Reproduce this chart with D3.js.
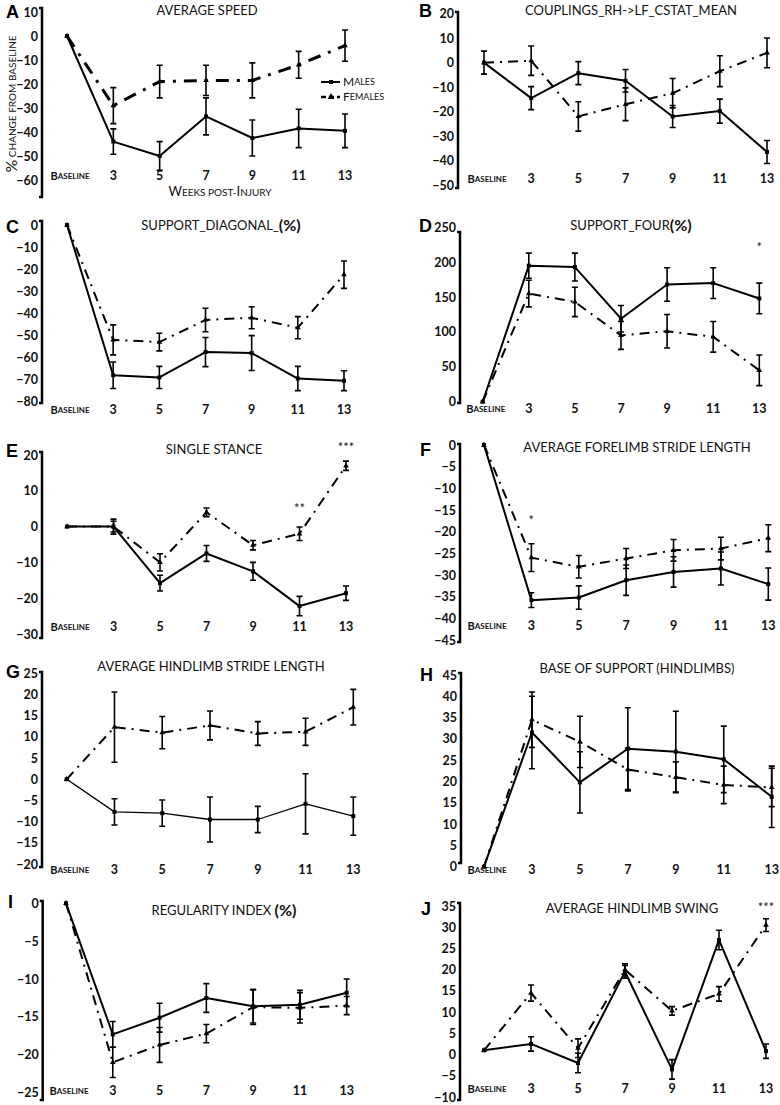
<!DOCTYPE html>
<html>
<head>
<meta charset="utf-8">
<script src="https://cdn.jsdelivr.net/npm/d3@7"></script>
<style>
body { margin: 0; background: #fff; }
svg { display: block; font-family: Lato, "Open Sans", sans-serif; }
</style>
</head>
<body>
<div id="chart"></div>
<script>
const weeks = ["Baseline", "3", "5", "7", "9", "11", "13"];

// A - average speed
const speedMales = [0, -44, -50, -33.5, -42.5, -38.5, -39.5];
const speedMalesErr = [0, 5.3, 6, 7.7, 7.5, 8, 7];
const speedFemales = [0, -29, -19, -18.5, -18.5, -12, -4];
const speedFemalesErr = [0, 7.5, 6.8, 6.3, 7.3, 5.6, 6.5];

// B - couplings RH->LF
const couplingMales = [0, -14.5, -4.3, -7.4, -22, -19.8, -36.5];
const couplingMalesErr = [4.7, 4.7, 4.7, 4.6, 4.5, 4.9, 4.7];
const couplingFemales = [0, 0.8, -22, -17, -12.5, -3.5, 4];
const couplingFemalesErr = [0, 6, 6, 6.7, 6, 6.3, 6.1];

// C - support diagonal
const diagMales = [0, -68, -69, -57.5, -58, -69.5, -70.5];
const diagMalesErr = [0, 6, 5, 6.6, 7.9, 5.5, 4.5];
const diagFemales = [0, -52, -53, -43, -42, -46.5, -22.5];
const diagFemalesErr = [0, 6.8, 4, 5.3, 5, 5, 6.2];

// D - support four
const fourMales = [0, 195, 193, 119, 168, 170, 148];
const fourMalesErr = [0, 18, 20, 19, 24, 22, 22];
const fourFemales = [0, 155, 143, 95, 101, 93, 45];
const fourFemalesErr = [0, 19, 21, 20, 24, 22, 22];
const fourSig = [["13", 219, "*"]];

// E - single stance
const stanceMales = [0, 0, -15.8, -7.5, -12.5, -22.2, -18.6];
const stanceMalesErr = [0, 2.1, 2.2, 2.2, 2.5, 2.7, 2];
const stanceFemales = [0, 0, -10, 4, -5.2, -2, 17];
const stanceFemalesErr = [0, 1.5, 2.4, 1.2, 1.3, 1.9, 1.3];
const stanceSig = [["11", 4.8, "**"], ["13", 21.7, "***"]];

// F - forelimb stride length
const foreMales = [0, -35.8, -35.2, -31.2, -29.3, -28.5, -32.1];
const foreMalesErr = [0, 1.7, 2.7, 3.5, 3.5, 3.8, 3.7];
const foreFemales = [0, -26, -28.1, -26.2, -24.3, -23.9, -21.5];
const foreFemalesErr = [0, 3.2, 2.6, 2.3, 2.5, 2.6, 3.1];
const foreSig = [["3", -17.8, "*"]];

// G - hindlimb stride length
const hindMales = [0, -7.7, -8, -9.5, -9.5, -5.8, -8.7];
const hindMalesErr = [0, 3.1, 3.1, 5.3, 3.1, 7.1, 4.5];
const hindFemales = [0, 12.3, 11, 12.7, 10.8, 11.2, 17];
const hindFemalesErr = [0, 8.3, 3.8, 3.4, 2.8, 3.2, 4.2];

// H - base of support
const bosMales = [0, 31.5, 19.8, 27.7, 27, 25.2, 16.4];
const bosMalesErr = [0, 8.5, 7.2, 9.6, 9.5, 7.8, 7.2];
const bosFemales = [0, 34.5, 29.3, 22.8, 21, 19.2, 18.6];
const bosFemalesErr = [0, 6.5, 6, 5, 3.6, 4.4, 4.5];

// I - regularity index
const regMales = [0, -17.3, -15.1, -12.5, -13.6, -13.4, -11.8];
const regMalesErr = [0, 1.7, 1.9, 1.9, 2.2, 1.9, 1.8];
const regFemales = [0, -21, -18.7, -17.2, -13.7, -13.8, -13.5];
const regFemalesErr = [0, 2, 2.3, 1.2, 2.3, 2, 1.2];

// J - hindlimb swing
const swingMales = [1, 2.5, -2, 19.5, -3.5, 27, 0.8];
const swingMalesErr = [0, 1.7, 2.3, 1.5, 2.3, 2.3, 1.7];
const swingFemales = [1, 14.5, 1.5, 20, 10.3, 14.3, 30.5];
const swingFemalesErr = [0, 1.9, 2.2, 1.4, 1, 1.7, 1.5];
const swingSig = [["13", 34.3, "***"]];

const panels = [
  {letter: "A", lx: 6, ly: 18, title: [["AVERAGE SPEED", 13]], tx: 207, ty: 12,
   ax: 42, dom: [-60, 10], py: [180, 12], ticks: d3.range(-60, 11, 10), xr: [67, 345], labY: 177, ends: [8, 197],
   m: speedMales, me: speedMalesErr, f: speedFemales, fe: speedFemalesErr, sig: [], fw: 3, dash: "13,8,3,8", mw: 2},
  {letter: "B", lx: 419, ly: 17, title: [["COUPLINGS_RH->LF_CSTAT_MEAN", 13]], tx: 631, ty: 12,
   ax: 458, dom: [-50, 20], py: [185, 13.7], ticks: d3.range(-50, 21, 10), xr: [484, 767], labY: 180, ends: [12, 188],
   m: couplingMales, me: couplingMalesErr, f: couplingFemales, fe: couplingFemalesErr, sig: [], fw: 2, dash: "10,6,2,6", mw: 2},
  {letter: "C", lx: 6, ly: 233, title: [["SUPPORT_DIAGONAL_", 13], ["(%)", 16, 700]], tx: 221, ty: 227,
   ax: 42, dom: [-80, 0], py: [401.7, 225], ticks: d3.range(-80, 1, 10), xr: [67, 344], labY: 411, ends: [221, 403],
   m: diagMales, me: diagMalesErr, f: diagFemales, fe: diagFemalesErr, sig: [], fw: 2, dash: "10,6,2,6", mw: 2},
  {letter: "D", lx: 419, ly: 232, title: [["SUPPORT_FOUR", 13], ["(%)", 16, 700]], tx: 631, ty: 227,
   ax: 460, dom: [0, 250], py: [401.7, 227.3], ticks: d3.range(0, 251, 50), xr: [482.7, 759.3], labY: 410, ends: [232, 403],
   m: fourMales, me: fourMalesErr, f: fourFemales, fe: fourFemalesErr, sig: fourSig, fw: 2, dash: "10,6,2,6", mw: 2},
  {letter: "E", lx: 6, ly: 457, title: [["SINGLE STANCE", 13]], tx: 214, ty: 451,
   ax: 42, dom: [-30, 20], py: [634, 455], ticks: d3.range(-30, 21, 10), xr: [67, 346], labY: 628, ends: [452, 638],
   m: stanceMales, me: stanceMalesErr, f: stanceFemales, fe: stanceFemalesErr, sig: stanceSig, fw: 2, dash: "10,6,2,6", mw: 2},
  {letter: "F", lx: 420, ly: 456, title: [["AVERAGE FORELIMB STRIDE LENGTH", 13]], tx: 637, ty: 449,
   ax: 460, dom: [-45, 0], py: [640, 445], ticks: d3.range(-45, 1, 5), xr: [484, 768.3], labY: 627, ends: [444, 642],
   m: foreMales, me: foreMalesErr, f: foreFemales, fe: foreFemalesErr, sig: foreSig, fw: 2, dash: "10,6,2,6", mw: 2},
  {letter: "G", lx: 6, ly: 678, title: [["AVERAGE HINDLIMB STRIDE LENGTH", 13]], tx: 211, ty: 668,
   ax: 42, dom: [-20, 25], py: [864, 673.3], ticks: d3.range(-20, 26, 5), xr: [66.7, 353.3], labY: 871, ends: [672, 867],
   m: hindMales, me: hindMalesErr, f: hindFemales, fe: hindFemalesErr, sig: [], fw: 2, dash: "10,6,2,6", mw: 1.3},
  {letter: "H", lx: 420, ly: 681, title: [["BASE OF SUPPORT (HINDLIMBS)", 13]], tx: 637, ty: 670,
   ax: 461, dom: [0, 45], py: [866.7, 675], ticks: d3.range(0, 46, 5), xr: [484, 771.7], labY: 871, ends: [673, 863],
   m: bosMales, me: bosMalesErr, f: bosFemales, fe: bosFemalesErr, sig: [], fw: 2, dash: "10,6,2,6", mw: 2},
  {letter: "I", lx: 8, ly: 908, title: [["REGULARITY INDEX ", 13], ["(%)", 16, 700]], tx: 224, ty: 912,
   ax: 42.7, dom: [-25, 0], py: [1092.7, 903.3], ticks: d3.range(-25, 1, 5), xr: [66, 346.7], labY: 1092, ends: [901, 1100],
   m: regMales, me: regMalesErr, f: regFemales, fe: regFemalesErr, sig: [], fw: 2, dash: "10,6,2,6", mw: 2},
  {letter: "J", lx: 421, ly: 915, title: [["AVERAGE HINDLIMB SWING", 13]], tx: 632, ty: 910,
   ax: 460, dom: [-10, 35], py: [1097, 906], ticks: d3.range(-10, 36, 5), xr: [484, 766], labY: 1090, ends: [903, 1100],
   m: swingMales, me: swingMalesErr, f: swingFemales, fe: swingFemalesErr, sig: swingSig, fw: 2, dash: "10,6,2,6", mw: 2}
];

const width = 780;
const height = 1105;

const svg = d3.select('#chart').append('svg')
  .attr('width', width)
  .attr('height', height);

// small caps text helper: first letters big, rest small
function smallCaps(sel, parts, big, small) {
  parts.forEach(p => {
    sel.append('tspan').attr('font-size', p[1] ? big : small).text(p[0]);
  });
}

panels.forEach(p => {
  const g = svg.append('g');

  const y = d3.scaleLinear().domain(p.dom).range(p.py);
  const x = d3.scalePoint().domain(weeks).range(p.xr);

  // panel letter
  g.append('text')
    .attr('x', p.lx).attr('y', p.ly)
    .attr('font-family', 'Liberation Sans, Arial, sans-serif')
    .attr('font-weight', 'bold')
    .attr('font-size', 18)
    .text(p.letter);

  // title
  const t = g.append('text')
    .attr('x', p.tx).attr('y', p.ty)
    .attr('text-anchor', 'middle')
    .attr('dominant-baseline', 'middle')
    .attr('fill', '#111');
  p.title.forEach(s => {
    t.append('tspan').attr('font-size', s[1]).attr('font-weight', s[2] || 400).text(s[0]);
  });

  // y axis
  const axis = d3.axisLeft(y).tickValues(p.ticks).tickSize(0).tickPadding(4);
  const ag = g.append('g').attr('transform', `translate(${p.ax},0)`).call(axis);
  ag.select('.domain').remove();
  ag.selectAll('text')
    .attr('font-family', 'Lato, sans-serif')
    .attr('font-size', 12.5)
    .attr('font-weight', 700)
    .attr('fill', '#111');

  g.append('path')
    .attr('d', `M${p.ax - 3},${p.ends[0]}H${p.ax}V${p.ends[1]}H${p.ax - 3}`)
    .attr('fill', 'none')
    .attr('stroke', '#000')
    .attr('stroke-width', 2.5);

  // x labels
  weeks.forEach((w, i) => {
    const lt = g.append('text')
      .attr('x', x(w) + (i === 0 ? 3 : 0))
      .attr('y', p.labY)
      .attr('text-anchor', 'middle')
      .attr('dominant-baseline', 'middle')
      .attr('font-weight', 700)
      .attr('fill', '#111');
    if (i === 0) {
      smallCaps(lt, [["B", true], ["ASELINE", false]], 11, 8);
    } else {
      lt.attr('font-size', 12.5).text(w);
    }
  });

  const line = d3.line()
    .x((d, i) => x(weeks[i]))
    .y(d => y(d));

  // females
  g.append('path')
    .datum(p.f)
    .attr('d', line)
    .attr('fill', 'none')
    .attr('stroke', '#000')
    .attr('stroke-width', p.fw)
    .attr('stroke-dasharray', p.dash);

  // males
  g.append('path')
    .datum(p.m)
    .attr('d', line)
    .attr('fill', 'none')
    .attr('stroke', '#000')
    .attr('stroke-width', p.mw)
    .attr('stroke-linejoin', 'round');

  // error bars
  [[p.m, p.me], [p.f, p.fe]].forEach(s => {
    const vals = s[0], errs = s[1];
    vals.forEach((v, i) => {
      if (!errs[i]) return;
      const cx = x(weeks[i]);
      const y1 = y(v - errs[i]), y2 = y(v + errs[i]);
      g.append('path')
        .attr('d', `M${cx},${y1}V${y2}M${cx - 3},${y1}H${cx + 3}M${cx - 3},${y2}H${cx + 3}`)
        .attr('fill', 'none')
        .attr('stroke', '#000')
        .attr('stroke-width', 1.6);
    });
  });

  // markers
  g.selectAll('.msq')
    .data(p.m)
    .enter()
    .append('rect')
    .attr('x', (d, i) => x(weeks[i]) - 2)
    .attr('y', d => y(d) - 2)
    .attr('width', 4)
    .attr('height', 4)
    .attr('fill', '#000');

  g.selectAll('.ftri')
    .data(p.f)
    .enter()
    .append('path')
    .attr('d', d3.symbol(d3.symbolTriangle, 14))
    .attr('transform', (d, i) => `translate(${x(weeks[i])},${y(d)})`)
    .attr('fill', '#000');

  // significance stars
  p.sig.forEach(s => {
    g.append('text')
      .attr('x', x(s[0]))
      .attr('y', y(s[1]))
      .attr('text-anchor', 'middle')
      .attr('dominant-baseline', 'middle')
      .attr('font-size', 13)
      .attr('fill', '#222')
      .text(s[2]);
  });

  // legend + axis titles only on the first panel
  if (p.letter === "A") {
    const lg = g.append('g');
    lg.append('line').attr('x1', 321).attr('x2', 340).attr('y1', 82).attr('y2', 82)
      .attr('stroke', '#000').attr('stroke-width', 2);
    lg.append('rect').attr('x', 329).attr('y', 80).attr('width', 4).attr('height', 4);
    lg.append('line').attr('x1', 321).attr('x2', 340).attr('y1', 97).attr('y2', 97)
      .attr('stroke', '#000').attr('stroke-width', 2.5).attr('stroke-dasharray', '5,3');
    lg.append('path').attr('d', d3.symbol(d3.symbolTriangle, 20)).attr('transform', 'translate(331,97)');
    const m = lg.append('text').attr('x', 343).attr('y', 83).attr('dominant-baseline', 'middle').attr('fill', '#111');
    smallCaps(m, [["M", true], ["ALES", false]], 12, 9);
    const f = lg.append('text').attr('x', 343).attr('y', 98).attr('dominant-baseline', 'middle').attr('fill', '#111');
    smallCaps(f, [["F", true], ["EMALES", false]], 12, 9);

    const yl = g.append('text')
      .attr('transform', 'translate(13,104) rotate(-90)')
      .attr('text-anchor', 'middle')
      .attr('dominant-baseline', 'middle')
      .attr('fill', '#111');
    yl.append('tspan').attr('font-size', 16).text('%');
    yl.append('tspan').attr('font-size', 10).text(' CHANGE FROM BASELINE');

    const xl = g.append('text')
      .attr('x', 220).attr('y', 193)
      .attr('text-anchor', 'middle')
      .attr('dominant-baseline', 'middle')
      .attr('fill', '#111');
    smallCaps(xl, [["W", true], ["EEKS POST-", false], ["I", true], ["NJURY", false]], 13, 10);
  }
});
</script>
</body>
</html>
